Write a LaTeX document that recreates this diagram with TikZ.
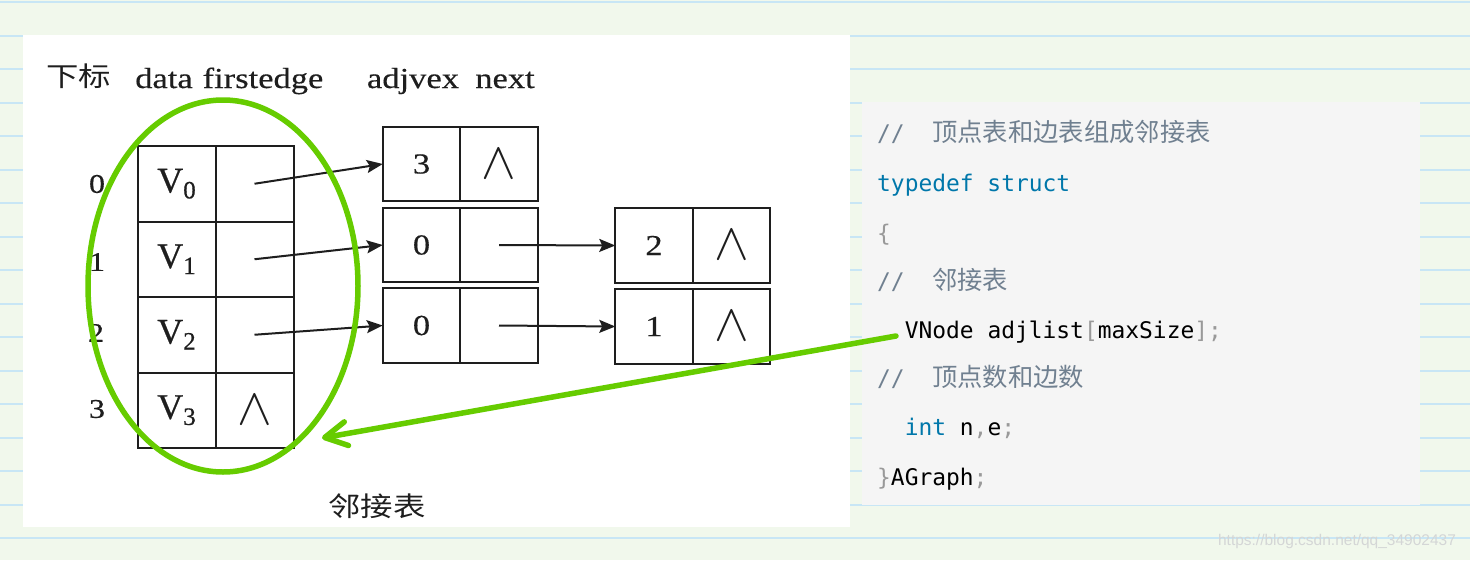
\documentclass[tikz,border=0pt]{standalone}
\usepackage{fontspec}
\usepackage{graphicx}
\usetikzlibrary{arrows.meta,shapes.geometric}
\setmainfont{Liberation Serif}
\newfontfamily\tms{Liberation Serif}[FakeStretch=1.19,FakeBold=0.4]
\newfontfamily\tmv{Liberation Serif}[FakeBold=0.6]
\newfontfamily\cjkd{Noto Sans CJK SC}[FakeStretch=1.2]
\newfontfamily\cjkc{Noto Sans CJK SC}
\newfontfamily\cmono{DejaVu Sans Mono}
\newfontfamily\wmk{Liberation Sans}
\definecolor{bgg}{RGB}{241,248,236}
\definecolor{bgl}{RGB}{200,230,245}
\definecolor{codebg}{RGB}{245,245,245}
\definecolor{gr}{RGB}{102,204,0}
\definecolor{cmt}{RGB}{112,128,144}
\definecolor{kw}{RGB}{0,119,170}
\definecolor{pun}{RGB}{153,153,153}
\definecolor{ink}{RGB}{30,30,30}
\newcommand\Vx[1]{{\tmv\fontsize{36}{36}\selectfont V}\raisebox{-6pt}{\tmv\fontsize{25}{25}\selectfont #1}}
\newcommand\nil{{\fontsize{10}{10}\selectfont\scalebox{5.2}{$\wedge$}}}
\newcommand\cz{\cjkc\fontsize{25.3}{25.3}\selectfont}
\tikzset{
  vcell/.style={draw=ink, line width=2pt, minimum width=78pt, minimum height=75.5pt,
    inner sep=0pt, outer sep=0pt, text=ink, font=\tms\fontsize{29}{29}\selectfont},
  ecell/.style={vcell, minimum width=77.5pt, minimum height=74.5pt},
  ptr/.style={draw=ink, line width=2pt, -{Stealth[length=16pt,width=13pt,inset=3pt]}},
  idx/.style={inner sep=0pt, text=ink, font=\tms\fontsize{27}{27}\selectfont},
  head/.style={anchor=base, inner sep=0pt, text=ink, font=\tms\fontsize{29}{29}\selectfont},
  code/.style={anchor=base west, inner sep=0pt, font=\cmono\fontsize{22.9}{22.9}\selectfont, text=black},
  garrow/.style={draw=gr, line width=5.5pt, line cap=round,
    -{Straight Barb[length=22pt,width=24pt,line cap=round,line join=round]}},
  ring/.style={draw=gr, line width=5.5pt, ellipse, inner sep=0pt, outer sep=0pt}
}
\begin{document}
\begin{tikzpicture}[x=1pt,y=-1pt]
\useasboundingbox (0,0) rectangle (1470,560);
% page background
\fill[bgg] (0,0) rectangle (1470,560);
\foreach \k in {0,...,16} \draw[bgl, line width=2pt] (0,{2+33.5*\k}) -- (1470,{2+33.5*\k});
% picture area
\fill[white] (23,35) rectangle (850,527);
% header
\node[head, font=\cjkd\fontsize{27}{27}\selectfont] (hidx) at (78.5,86) {下标};
\node[head] (hdata) at (164,88) {data};
\node[head] (hfirst) at (263,88) {firstedge};
\node[head] (hadj) at (413,88) {adjvex};
\node[head] (hnext) at (505,88) {next};
% indices
\node[idx] (i0) at (97,184) {0};
\node[idx] (i1) at (97,262) {1};
\node[idx] (i2) at (96,333) {2};
\node[idx] (i3) at (97,409) {3};
% vertex table
\node[vcell] (d0) at (176.5,183.75) {\Vx{0}};
\node[vcell] (f0) at (254.5,183.75) {};
\node[vcell] (d1) at (176.5,259.25) {\Vx{1}};
\node[vcell] (f1) at (254.5,259.25) {};
\node[vcell] (d2) at (176.5,334.75) {\Vx{2}};
\node[vcell] (f2) at (254.5,334.75) {};
\node[vcell] (d3) at (176.5,410.25) {\Vx{3}};
\node[vcell] (f3) at (254.5,410.25) {\nil};
% edge nodes
\node[ecell] (e1a) at (421.5,164) {3};
\node[ecell] (e1b) at (499,164) {\nil};
\node[ecell] (e2a) at (421.5,245) {0};
\node[ecell] (e2b) at (499,245) {};
\node[ecell] (e3a) at (421.5,325.5) {0};
\node[ecell] (e3b) at (499,325.5) {};
\node[ecell] (e4a) at (654,245.5) {2};
\node[ecell] (e4b) at (731.5,245.5) {\nil};
\node[ecell] (e5a) at (654,326.5) {1};
\node[ecell] (e5b) at (731.5,326.5) {\nil};
% pointers
\draw[ptr] (f0.center) -- (e1a.west);
\draw[ptr] (f1.center) -- (e2a.west);
\draw[ptr] (f2.center) -- (e3a.west);
\draw[ptr] (e2b.center) -- (e4a.west);
\draw[ptr] (e3b.center) -- (e5a.west);
% caption
\node[inner sep=0pt, text=ink, font=\cjkd\fontsize{27}{27}\selectfont] (cap) at (377,506) {邻接表};
% code panel
\node[fill=codebg, minimum width=558pt, minimum height=403pt, inner sep=0pt] (panel) at (1141,303.5) {};
\node[code] (c1) at (877,141) {\color{cmt}//\ \ {\cz 顶点表和边表组成邻接表}};
\node[code] (c2) at (877,191) {\color{kw}typedef struct};
\node[code] (c3) at (877,241) {\color{pun}\{};
\node[code] (c4) at (877,289) {\color{cmt}//\ \ {\cz 邻接表}};
\node[code] (c5) at (904.6,338) {VNode adjlist{\color{pun}[}maxSize{\color{pun}];}};
\node[code] (c6) at (877,386) {\color{cmt}//\ \ {\cz 顶点数和边数}};
\node[code] (c7) at (904.6,435) {{\color{kw}int} n{\color{pun},}e{\color{pun};}};
\node[code] (c8) at (877,485) {{\color{pun}\}}AGraph{\color{pun};}};
% highlight
\node[ring, minimum width=270pt, minimum height=372pt] (hl) at (223,286) {};
\coordinate (gs) at (896,336);
\coordinate (gt) at (322,438);
\draw[garrow] (gs) -- (gt);
% watermark
\node[inner sep=0pt, text={rgb,255:red,212;green,214;blue,214}, font=\wmk\fontsize{15.5}{15.5}\selectfont] (wm) at (1337,541) {https://blog.csdn.net/qq\_34902437};
\end{tikzpicture}
\end{document}
